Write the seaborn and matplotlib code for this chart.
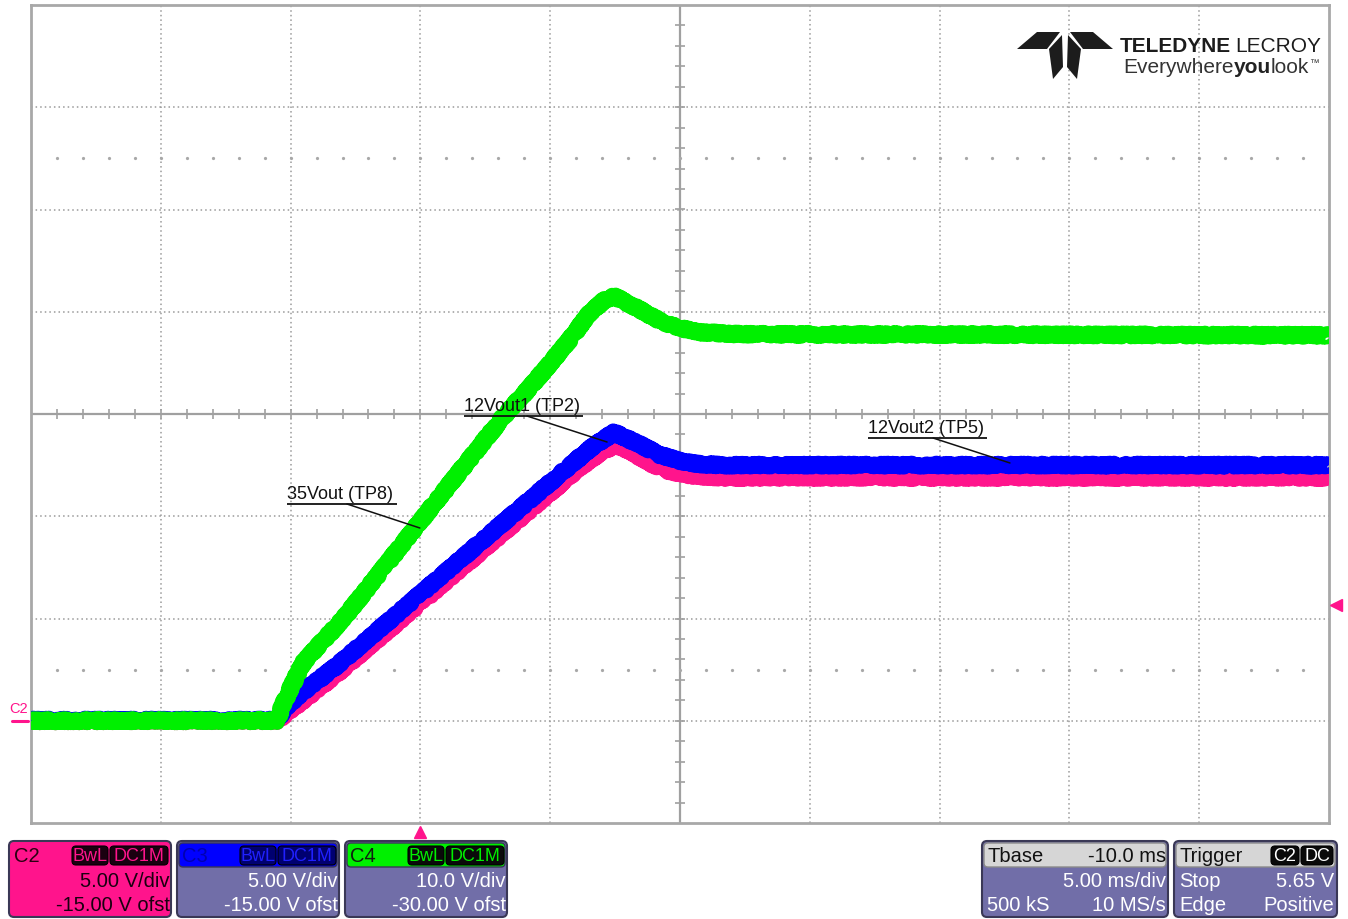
import numpy as np
import pandas as pd
import matplotlib
matplotlib.use("Agg")
import matplotlib.pyplot as plt
from matplotlib.patches import FancyBboxPatch, Polygon
import seaborn as sns

# ---- Acquisition data (time in ms relative to trigger, amplitude in volts) ----
t_c2 = [-15.0, -5.52, -5.02, -3.21, 4.95, 6.15, 6.92, 7.53, 8.07, 8.84, 9.61, 10.39, 11.54, 35.0]
v_c2 = [0.0, 0.0, 0.5, 2.3, 11.1, 12.4, 13.1, 13.5, 13.2, 12.6, 12.2, 12.0, 11.9, 11.9]

t_c3 = [-15.0, -5.52, -5.21, -4.64, -3.21, 4.95, 6.53, 7.46, 8.46, 9.23, 10.0, 10.77, 11.54, 35.0]
v_c3 = [0.03, 0.03, 0.6, 1.3, 2.7, 11.6, 13.3, 14.1, 13.5, 13.0, 12.7, 12.55, 12.5, 12.5]

t_c4 = [-15.0, -5.52, -5.29, -5.02, -4.52, -3.87, -3.21, -2.71, 3.18, 4.22,
        4.95, 5.76, 6.53, 7.11, 7.46, 7.88, 8.46, 9.23, 10.0, 10.77, 12.31, 35.0]
v_c4 = [0.0, 0.0, 1.6, 3.1, 5.65, 7.5, 9.3, 10.8, 29.7, 32.6,
        34.8, 37.3, 39.9, 41.2, 41.5, 41.0, 40.2, 39.1, 38.4, 38.0, 37.8, 37.7]

# Channel vertical settings: (V/div, offset V)
channels = {
    "C2": dict(t=t_c2, v=v_c2, vdiv=5.0, ofst=-15.0, color="#ff148c"),
    "C3": dict(t=t_c3, v=v_c3, vdiv=5.0, ofst=-15.0, color="#0000ff"),
    "C4": dict(t=t_c4, v=v_c4, vdiv=10.0, ofst=-30.0, color="#00f000"),
}

# Timebase: 5 ms/div, 10 divisions, trigger 3 divisions from the left edge
time_per_div = 5.0
t_start = -15.0
t_end = t_start + 10 * time_per_div
trigger_level = 5.65  # V on C2

labels = ["35Vout (TP8)", "12Vout1 (TP2)", "12Vout2 (TP5)"]

W, H = 1348, 920

sns.set_theme(style="white")
plt.rcParams["font.family"] = ["Liberation Sans", "DejaVu Sans"]

fig = plt.figure(figsize=(W / 100, H / 100), dpi=100)
fig.patch.set_facecolor("white")

ax = fig.add_axes([31 / W, 1 - 824 / H, 1298 / W, 818 / H])
ax.set_xlim(t_start, t_end)
ax.set_ylim(-4, 4)
ax.set_xticks([])
ax.set_yticks([])
for s in ax.spines.values():
    s.set_color("#a8a8a8")
    s.set_linewidth(2)

grid_kw = dict(color="#9a9a9a", lw=1.1, ls=(0, (1, 2)), zorder=1)
t_center = t_start + 5 * time_per_div
for k in range(1, 10):
    if k != 5:
        ax.axvline(t_start + k * time_per_div, **grid_kw)
for d in range(-3, 4):
    if d != 0:
        ax.axhline(d, **grid_kw)
ax.axvline(t_center, color="#a0a0a0", lw=1.6, zorder=1)
ax.axhline(0, color="#a0a0a0", lw=1.6, zorder=1)

# Sub-division ticks on the centre cross-hair
sub_t = np.arange(t_start + 1, t_end, 1.0)
ax.plot(sub_t, np.zeros_like(sub_t), ls="none", marker="|", ms=7, mew=1.2, color="#a0a0a0", zorder=1)
sub_d = np.arange(-3.8, 4.0, 0.2)
ax.plot(np.full_like(sub_d, t_center), sub_d, ls="none", marker="_", ms=7, mew=1.2, color="#a0a0a0", zorder=1)
for yy in (2.5, -2.5):
    ax.plot(sub_t, np.full_like(sub_t, yy), ls="none", marker="o", ms=1.3, color="#a8a8a8", zorder=1)

# Waveforms, converted to screen divisions
for z, name in enumerate(["C2", "C3", "C4"]):
    ch = channels[name]
    df = pd.DataFrame({"time": ch["t"], "div": (np.array(ch["v"]) + ch["ofst"]) / ch["vdiv"]})
    sns.lineplot(data=df, x="time", y="div", color=ch["color"], lw=11, sort=False,
                 estimator=None, ax=ax, zorder=3 + z)
    ln = ax.lines[-1]
    ln.set_solid_joinstyle("round")
    ln.set_solid_capstyle("butt")
    ln.set_sketch_params(scale=1.8, length=1.5, randomness=2)
ax.set_xlabel("")
ax.set_ylabel("")

# Labels with pointer lines (positions in ms / divisions)
label_geo = [
    # text-left, text-right, baseline div, pointer start t, pointer end (t, div)
    (-5.14, -0.90, -0.88, -2.83, (-0.02, -1.115)),
    (1.68, 6.26, -0.02, 4.11, (7.19, -0.274)),
    (17.24, 21.83, -0.235, 19.75, (22.71, -0.479)),
]
for text, (tl, tr, yb, tp, (te, de)) in zip(labels, label_geo):
    ax.text(tl, yb + 0.02, text, fontsize=13, color="#111111", ha="left", va="bottom", zorder=10)
    ax.plot([tl, tr], [yb, yb], color="#111111", lw=1.3, zorder=10, solid_capstyle="butt")
    ax.plot([tp, te], [yb, de], color="#111111", lw=1.1, zorder=10)

# Trigger markers: time (bottom) and level (right)
ax.plot([0], [-4.09], marker="^", ms=9, color=channels["C2"]["color"], clip_on=False, zorder=10)
ax.plot([t_end + 0.27], [(trigger_level + channels["C2"]["ofst"]) / channels["C2"]["vdiv"]],
        marker="<", ms=9, color=channels["C2"]["color"], clip_on=False, zorder=10)

# ---- Overlay in pixel coordinates for the scope's readouts and logo ----
ov = fig.add_axes([0, 0, 1, 1], zorder=5)
ov.set_xlim(0, W)
ov.set_ylim(H, 0)
ov.axis("off")
ov.patch.set_alpha(0)

# Channel ground reference tag
ov.text(19, 709, "C2", fontsize=10.5, color=channels["C2"]["color"], ha="center", va="center")
ov.plot([12, 28], [722, 722], color=channels["C2"]["color"], lw=2.2)


def rbox(x0, y0, x1, y1, fc, ec, lw=1.2, r=4):
    ov.add_patch(FancyBboxPatch((x0, y0), x1 - x0, y1 - y0,
                                boxstyle=f"round,pad=0,rounding_size={r}",
                                fc=fc, ec=ec, lw=lw))


body = "#716ea8"
edge = "#3a3856"
fs = 14.5
row_y = (857, 882, 906)


def badge(x0, x1, text, fc, tc):
    rbox(x0, 847, x1, 866, fc, "#000000", 0.8, 4)
    ov.text((x0 + x1) / 2, 857, text, fontsize=13, color=tc, ha="center", va="center")


def channel_panel(x0, name, head_fc, body_fc, head_tc, badge_fc, badge_tc, body_tc, l1, l2):
    x1 = x0 + 162
    rbox(x0, 842, x1, 918, body_fc, edge, 1.5, 5)
    rbox(x0 + 2, 844, x1 - 2, 868, head_fc, edge if head_fc != body_fc else head_fc, 1.0, 4)
    ov.text(x0 + 5, row_y[0], name, fontsize=fs, color=head_tc, ha="left", va="center")
    badge(x1 - 99, x1 - 63, "BwL", badge_fc, badge_tc)
    badge(x1 - 61, x1 - 3, "DC1M", badge_fc, badge_tc)
    ov.text(x1 - 1, row_y[1], l1, fontsize=fs, color=body_tc, ha="right", va="center")
    ov.text(x1 - 1, row_y[2], l2, fontsize=fs, color=body_tc, ha="right", va="center")


channel_panel(9, "C2", channels["C2"]["color"], channels["C2"]["color"], "#2a0012",
              "#1a0010", channels["C2"]["color"], "#1a0010", "5.00 V/div", "-15.00 V ofst")
channel_panel(177, "C3", channels["C3"]["color"], body, "#0000b0",
              "#000070", "#2020ff", "white", "5.00 V/div", "-15.00 V ofst")
channel_panel(345, "C4", channels["C4"]["color"], body, "#102010",
              "#0a0a0a", channels["C4"]["color"], "white", "10.0 V/div", "-30.00 V ofst")

# Timebase panel
rbox(982, 842, 1168, 918, body, edge, 1.5, 5)
rbox(984, 844, 1166, 868, "#d6d6d6", "#8a8a8a", 1.0, 4)
ov.text(988, row_y[0], "Tbase", fontsize=fs, color="#111111", ha="left", va="center")
ov.text(1166, row_y[0], "-10.0 ms", fontsize=fs, color="#111111", ha="right", va="center")
ov.text(1166, row_y[1], "5.00 ms/div", fontsize=fs, color="white", ha="right", va="center")
ov.text(987, row_y[2], "500 kS", fontsize=fs, color="white", ha="left", va="center")
ov.text(1166, row_y[2], "10 MS/s", fontsize=fs, color="white", ha="right", va="center")

# Trigger panel
rbox(1174, 842, 1337, 918, body, edge, 1.5, 5)
rbox(1176, 844, 1335, 868, "#d6d6d6", "#8a8a8a", 1.0, 4)
ov.text(1180, row_y[0], "Trigger", fontsize=fs, color="#111111", ha="left", va="center")
badge(1271, 1299, "C2", "#0a0a0a", "white")
badge(1301, 1333, "DC", "#0a0a0a", "white")
ov.text(1179, row_y[1], "Stop", fontsize=fs, color="white", ha="left", va="center")
ov.text(1334, row_y[1], "5.65 V", fontsize=fs, color="white", ha="right", va="center")
ov.text(1179, row_y[2], "Edge", fontsize=fs, color="white", ha="left", va="center")
ov.text(1334, row_y[2], "Positive", fontsize=fs, color="white", ha="right", va="center")

# Logo mark
logo_c = "#1c1c1c"
for pts in (
    [(1017, 50), (1037, 33), (1060, 33), (1047, 50)],
    [(1113, 50), (1093, 33), (1070, 33), (1083, 50)],
    [(1049, 50), (1062, 36), (1063, 68), (1053, 80)],
    [(1081, 50), (1068, 36), (1067, 68), (1077, 80)],
):
    ov.add_patch(Polygon(pts, closed=True, fc=logo_c, ec="none"))

ov.text(1120, 52, "TELEDYNE", fontsize=15, fontweight="bold", color=logo_c, ha="left", va="baseline")
ov.text(1321, 52, "LECROY", fontsize=15, color=logo_c, ha="right", va="baseline")
a = ov.annotate("Everywhere", xy=(1123, 73), xycoords="data", fontsize=15, color="#333333",
                ha="left", va="baseline")
b = ov.annotate("you", xy=(1, 0), xycoords=a, fontsize=15, fontweight="bold", color="#222222",
                ha="left", va="bottom")
c = ov.annotate("look", xy=(1, 0), xycoords=b, fontsize=15, color="#333333", ha="left", va="bottom")
ov.annotate("\u2122", xy=(1, 1), xycoords=c, fontsize=7, color="#333333", ha="left", va="top")

fig.savefig("out.png", dpi=100, facecolor="white")
